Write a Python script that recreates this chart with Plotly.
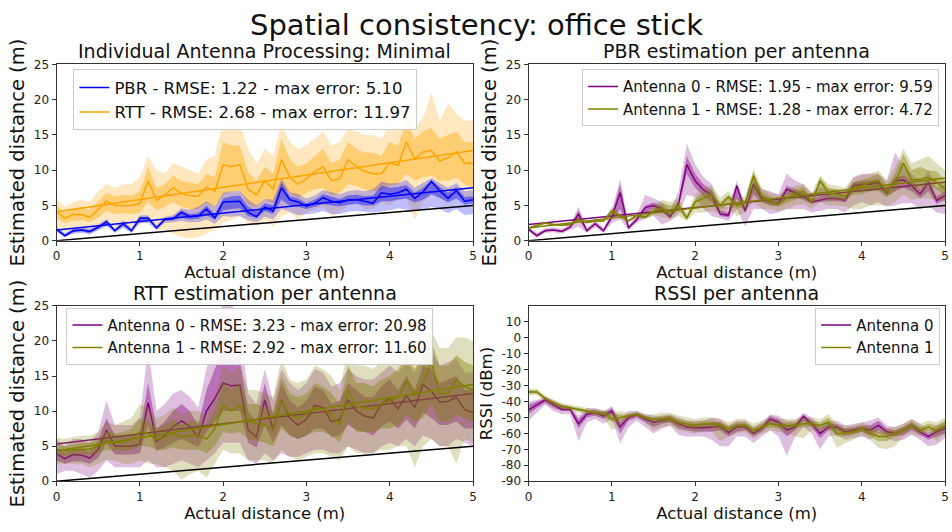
import plotly.graph_objects as go

# ---------------- data ----------------
dist = [0.0, 0.1, 0.2, 0.3, 0.4, 0.5, 0.6, 0.7, 0.8, 0.9, 1.0, 1.1, 1.2, 1.3, 1.4, 1.5, 1.6, 1.7,
        1.8, 1.9, 2.0, 2.1, 2.2, 2.3, 2.4, 2.5, 2.6, 2.7, 2.8, 2.9, 3.0, 3.1, 3.2, 3.3, 3.4, 3.5,
        3.6, 3.7, 3.8, 3.9, 4.0, 4.1, 4.2, 4.3, 4.4, 4.5, 4.6, 4.7, 4.8, 4.9, 5.0]
fit_x = [0.0, 5.0]

# Panel 1 - combined PBR
pbr_med = [1.6,0.7,1.4,1.5,1.3,1.9,2.7,1.4,2.4,1.4,3.2,3.2,1.8,3.0,3.1,4.0,3.4,3.5,4.5,3.2,5.5,5.6,5.6,4.0,3.4,4.8,4.2,7.5,5.8,5.5,4.9,5.3,6.1,5.6,5.4,5.8,5.8,5.6,5.3,6.8,6.6,6.8,7.3,6.0,6.9,8.4,7.1,6.0,7.1,5.6,5.8]
pbr_q_lo = [1.4,0.6,1.2,1.3,1.1,1.7,2.3,1.3,2.1,1.3,2.8,2.9,1.7,2.8,2.9,3.3,3.0,3.1,3.6,3.0,4.3,4.5,4.6,3.5,3.2,4.2,3.8,5.8,5.0,4.8,4.5,4.8,5.2,5.0,4.9,5.1,5.2,5.0,5.0,5.6,5.6,5.8,6.0,5.4,5.8,6.6,6.1,5.4,6.0,5.1,5.3]
pbr_q_hi = [1.8,0.9,1.6,1.7,1.5,2.1,2.9,1.6,2.6,1.6,3.4,3.4,2.0,3.2,3.4,4.3,3.8,3.9,5.0,3.8,6.0,6.3,6.4,4.8,4.2,5.3,5.0,8.3,6.3,6.0,5.3,5.8,6.6,6.2,5.9,6.4,6.5,6.3,6.4,7.8,7.5,7.6,7.9,6.8,7.5,8.6,7.6,6.8,7.6,6.2,6.3]
pbr_o_lo = [1.2,0.5,1.0,1.1,0.9,1.5,2.0,1.1,1.8,1.1,2.5,2.5,1.5,2.5,2.6,2.8,2.6,2.6,3.0,2.4,3.5,3.4,3.5,2.9,2.6,3.4,3.0,4.5,4.1,3.6,3.8,3.9,4.2,3.8,3.8,4.1,4.2,4.1,4.0,4.2,4.3,4.6,4.4,4.2,4.3,4.8,4.5,3.9,4.5,3.6,3.8]
pbr_o_hi = [2.0,1.1,1.8,1.9,1.7,2.3,3.1,1.8,2.9,1.8,3.6,3.6,2.2,3.4,3.6,4.6,4.4,4.8,5.6,4.8,6.8,7.0,7.0,5.8,5.0,5.9,5.8,8.8,6.9,6.6,6.0,6.4,7.2,6.9,6.6,7.0,7.2,7.0,7.3,8.4,8.1,8.2,8.6,7.5,8.2,8.9,8.2,7.5,8.2,7.0,7.2]
pbr_fit = [1.5, 7.5]

# Panel 1 - combined RTT
rtt_med = [4.15,3.2,3.7,3.7,3.3,4.4,5.6,5.0,5.0,5.0,5.3,8.5,5.7,6.5,7.5,6.7,6.4,6.3,7.6,7.0,10.8,10.5,10.8,7.3,6.5,8.5,7.3,11.5,9.0,8.0,8.8,9.8,10.5,8.5,8.8,11.5,10.5,9.8,9.5,9.5,11.0,10.7,14.0,11.6,12.6,12.8,11.3,11.8,12.6,11.0,11.0]
rtt_q_lo = [3.2,2.5,2.8,2.9,2.6,3.3,4.2,3.8,3.9,3.8,4.0,5.5,4.3,4.8,5.5,4.8,4.5,4.5,5.3,4.8,6.5,7.0,7.0,5.2,4.8,6.0,5.2,7.5,6.8,6.0,6.8,7.3,7.5,6.5,6.8,8.0,7.8,7.3,7.0,7.2,7.8,8.0,9.5,8.5,9.0,9.2,8.5,8.5,9.0,8.0,7.5]
rtt_q_hi = [5.0,4.0,4.6,4.8,4.4,5.6,6.8,6.3,6.5,6.4,7.0,10.5,7.5,8.0,9.2,8.5,8.3,8.0,9.5,9.0,14.0,13.5,13.5,9.8,8.5,10.5,9.5,14.5,11.5,10.5,11.0,12.0,13.0,11.0,11.5,14.0,13.0,12.5,12.5,12.0,14.0,13.5,17.0,14.5,15.5,16.0,14.5,15.0,15.5,14.0,14.0]
rtt_o_lo = [2.0,1.2,1.5,1.5,0.8,1.8,2.8,2.0,2.0,1.8,2.2,3.0,1.5,1.5,1.0,0.5,0.3,0.5,1.0,1.5,2.5,3.0,3.5,2.5,2.0,3.0,2.0,3.5,4.0,3.0,4.0,4.5,4.8,3.5,4.0,5.0,5.5,4.5,4.5,5.5,5.0,6.0,6.0,3.0,5.5,6.5,6.0,5.5,6.5,6.0,5.0]
rtt_o_hi = [6.0,4.8,5.5,5.8,5.5,7.0,8.0,7.5,8.0,8.0,9.0,12.0,10.0,9.5,11.0,10.5,10.0,9.5,11.5,12.0,17.0,16.5,16.5,13.0,11.0,13.0,12.0,16.5,14.0,13.0,13.5,14.5,15.5,13.5,14.0,16.0,15.5,15.0,15.0,14.5,16.5,16.0,18.5,16.0,17.5,21.0,17.0,19.5,18.0,17.0,17.0]
rtt_fit = [4.1, 12.8]

# Panel 2 - PBR per antenna
pa0_med = [1.6,0.7,1.4,1.5,1.3,1.9,3.8,1.4,2.4,1.4,3.4,6.8,1.8,3.0,4.7,5.0,4.5,3.4,5.2,10.8,8.5,7.2,6.5,3.8,3.6,7.8,4.2,8.0,6.0,5.5,5.3,7.3,6.8,6.3,5.5,5.8,6.0,6.0,5.7,7.8,8.0,8.0,8.3,6.8,8.5,8.6,7.8,6.6,8.2,5.7,6.4]
pa0_q_lo = [1.5,0.6,1.3,1.4,1.2,1.8,3.0,1.3,2.2,1.3,3.0,4.5,1.7,2.8,4.0,4.5,4.0,3.2,4.7,9.5,7.5,6.3,5.5,3.5,3.3,6.0,4.0,6.5,5.5,5.0,5.0,6.5,6.3,5.8,5.2,5.5,5.6,5.6,5.4,7.0,7.0,7.0,7.3,6.3,7.0,7.5,7.0,6.0,7.0,5.2,5.8]
pa0_q_hi = [1.8,0.9,1.6,1.7,1.5,2.1,4.3,1.6,2.6,1.6,3.8,8.0,2.0,3.3,5.0,5.4,5.0,3.7,5.7,12.0,9.5,8.0,7.2,4.3,4.0,8.0,4.6,8.5,6.5,6.0,5.8,7.8,7.3,6.8,5.9,6.3,6.5,6.4,6.2,8.3,8.5,8.5,8.8,7.2,9.0,9.3,8.5,7.3,8.8,6.3,7.0]
pa0_o_lo = [1.3,0.4,1.1,1.2,1.0,1.5,2.0,1.1,1.9,1.1,2.5,3.0,1.5,2.5,3.2,3.5,2.3,2.8,3.8,6.5,6.2,4.5,3.5,3.2,2.8,4.5,2.0,4.5,4.5,3.8,4.0,4.5,4.5,4.5,4.0,4.3,4.5,4.5,4.0,5.0,5.5,5.0,5.5,4.8,5.0,5.3,5.3,4.5,5.0,4.0,3.8]
pa0_o_hi = [2.0,1.1,1.8,1.9,1.7,2.3,4.8,1.8,2.9,1.8,4.3,8.8,2.2,3.7,6.5,6.0,5.5,4.2,7.0,13.8,10.8,9.0,8.0,5.0,4.8,8.5,5.2,9.0,7.3,7.0,6.6,9.5,8.5,8.0,6.8,7.5,7.3,7.2,7.0,9.0,9.5,9.5,9.5,8.5,12.5,10.5,9.5,8.3,10.0,7.5,8.0]
pa0_fit = [2.3, 8.3]

pa1_med = [1.8,2.2,2.5,2.3,2.2,2.3,3.0,2.6,2.8,2.8,4.2,3.5,2.8,3.6,3.3,4.2,4.6,4.0,5.0,3.2,5.5,6.0,6.5,5.0,6.2,5.0,5.3,9.2,6.3,5.6,5.2,6.0,6.6,7.0,5.5,8.5,6.8,6.6,6.3,7.5,7.8,8.3,8.5,7.0,8.3,11.0,8.6,8.7,9.0,8.3,7.3]
pa1_q_lo = [1.7,2.1,2.4,2.2,2.1,2.2,2.8,2.5,2.7,2.7,3.8,3.3,2.7,3.4,3.2,3.9,4.0,3.5,4.2,3.0,4.8,5.0,5.2,4.5,5.0,4.5,4.8,7.0,5.5,5.0,4.8,5.3,5.8,6.0,5.2,6.8,6.0,5.9,5.7,6.5,6.6,7.0,7.0,6.2,7.0,9.0,7.5,7.5,7.8,7.3,6.5]
pa1_q_hi = [1.9,2.3,2.6,2.4,2.3,2.4,3.2,2.7,2.9,2.9,4.5,3.7,2.9,3.8,3.5,4.6,5.4,5.0,5.5,3.6,6.0,6.8,7.2,5.5,6.5,5.5,5.8,9.8,7.0,6.3,5.6,6.6,7.2,7.6,6.0,9.0,7.5,7.3,7.0,8.3,8.6,9.0,9.5,7.8,9.5,12.3,10.0,10.5,10.0,9.8,8.5]
pa1_o_lo = [1.6,2.0,2.3,2.1,2.0,2.1,2.6,2.4,2.6,2.6,3.5,3.1,2.6,3.2,3.0,3.6,3.4,3.0,3.5,2.8,4.0,4.0,4.2,3.8,4.5,3.5,4.0,5.5,4.5,4.5,4.2,4.5,5.0,5.2,4.5,5.5,5.0,5.0,4.8,4.5,4.5,5.0,5.0,5.0,5.5,6.5,5.8,6.0,6.0,5.8,5.5]
pa1_o_hi = [2.0,2.4,2.7,2.5,2.4,2.5,3.4,2.8,3.0,3.0,4.8,3.9,3.0,4.0,3.7,5.0,5.8,5.5,6.0,4.0,6.5,7.5,7.8,6.2,7.0,6.0,6.3,10.2,7.5,6.8,6.5,7.2,7.8,8.0,6.8,9.2,8.0,7.8,7.5,9.0,9.2,9.5,10.0,8.5,10.5,13.0,11.0,11.5,12.0,11.0,10.0]
pa1_fit = [1.8, 8.9]

# Panel 3 - RTT per antenna
ra0_med = [3.9,3.2,3.8,3.7,3.3,4.5,7.3,5.0,5.0,5.0,5.3,11.2,5.7,6.5,7.8,8.6,7.8,6.3,10.0,11.8,14.0,13.6,13.7,7.3,6.3,11.6,7.3,11.6,9.0,8.0,8.8,10.8,10.5,8.5,8.8,11.6,10.0,9.3,9.0,11.0,11.8,10.3,12.2,10.5,13.8,12.8,11.3,11.4,12.0,10.2,9.8]
ra0_q_lo = [3.0,2.5,2.8,2.8,2.5,3.3,5.5,3.8,3.8,3.8,4.0,8.0,4.3,4.8,5.5,6.0,5.5,4.8,7.0,8.5,10.0,10.0,10.0,5.5,4.8,8.0,5.5,8.0,6.5,6.0,6.5,7.5,7.5,6.3,6.5,8.0,7.3,7.0,6.5,7.8,8.5,7.5,8.8,7.5,9.8,9.0,8.0,8.0,8.5,7.5,7.5]
ra0_q_hi = [4.8,4.0,4.8,4.6,4.2,5.8,9.0,6.5,6.5,6.5,7.0,14.0,7.5,8.5,10.0,11.0,10.0,8.0,13.0,16.0,19.0,17.5,17.5,10.0,8.5,14.0,9.5,14.0,11.5,10.5,11.5,13.5,13.0,11.0,11.5,14.0,13.0,12.0,12.0,13.5,14.5,13.0,15.0,13.0,16.5,16.0,14.0,14.5,15.0,13.0,13.0]
ra0_o_lo = [1.0,1.5,1.5,1.0,0.5,1.5,3.0,2.0,2.0,2.0,2.0,3.0,2.0,2.0,2.5,3.0,2.5,2.0,3.0,4.0,5.5,5.5,5.5,3.0,2.5,4.0,3.0,4.0,3.5,3.5,4.0,4.5,4.5,4.0,4.0,5.0,4.5,4.0,4.0,5.0,5.5,5.0,6.0,5.0,6.5,6.0,5.0,5.0,6.0,5.5,5.0]
ra0_o_hi = [6.0,5.0,6.0,6.0,5.5,7.0,11.5,8.0,8.0,8.0,9.0,19.0,10.0,11.0,12.5,13.0,12.0,10.5,16.0,20.0,26.0,25.5,22.0,12.5,11.0,16.0,11.5,16.0,14.0,13.0,14.0,16.0,15.5,13.5,14.0,16.0,15.0,14.5,14.5,15.5,16.5,15.5,17.0,15.5,18.0,18.5,16.5,17.0,17.5,15.5,15.5]
ra0_fit = [5.3, 12.5]

ra1_med = [4.5,4.3,4.5,4.6,4.6,5.0,5.8,5.5,5.6,6.0,7.0,6.8,6.0,6.3,6.8,6.3,6.5,6.5,6.0,7.5,10.8,10.0,10.8,8.5,8.3,8.0,7.5,11.5,9.5,9.0,9.5,10.5,10.3,9.5,8.0,13.0,10.5,10.5,10.3,11.0,11.5,12.0,14.3,12.5,14.0,17.0,12.5,12.5,14.5,13.5,13.0]
ra1_q_lo = [3.8,3.6,3.8,3.8,3.8,4.0,4.5,4.3,4.3,4.5,5.0,5.0,4.5,4.5,4.8,4.5,4.5,4.5,4.0,5.0,7.0,6.8,7.0,6.0,5.8,5.5,5.0,7.5,6.5,6.0,6.5,7.0,7.0,6.5,5.5,8.5,7.0,7.0,7.0,7.5,7.5,8.0,9.5,8.5,9.0,11.0,8.5,8.5,9.5,9.0,8.5]
ra1_q_hi = [5.3,5.0,5.3,5.5,5.5,6.0,7.2,6.8,7.0,7.5,9.0,8.5,7.5,8.0,8.8,8.0,8.5,8.5,8.0,10.0,14.0,13.0,14.0,11.0,11.0,10.5,10.0,15.0,12.5,12.0,12.5,14.0,13.5,12.5,11.0,16.5,14.0,14.0,13.5,14.5,15.0,16.0,18.0,16.0,18.0,20.0,16.5,16.5,18.0,17.0,16.5]
ra1_o_lo = [2.5,2.5,2.5,2.5,2.0,2.5,3.0,3.0,2.5,2.5,3.0,2.5,2.5,2.0,1.5,0.2,1.0,1.5,0.5,2.5,4.5,4.0,4.0,3.0,3.0,3.0,2.5,4.5,3.5,3.0,3.5,4.0,4.0,3.5,3.0,5.0,4.0,4.0,4.0,4.5,4.5,5.0,5.0,2.0,5.0,6.0,5.0,5.0,2.5,6.0,5.5]
ra1_o_hi = [6.2,6.0,6.3,6.5,6.5,7.0,8.5,8.0,8.5,9.0,11.0,10.5,9.0,9.5,10.5,9.5,10.0,10.0,9.5,12.0,16.5,15.5,16.5,13.0,13.0,12.5,12.0,17.5,14.5,14.0,14.5,16.5,16.0,15.0,13.0,19.0,16.5,16.5,16.0,17.0,17.5,18.5,20.0,18.5,20.0,21.5,19.0,19.0,20.5,20.5,20.0]
ra1_fit = [4.3, 13.8]

# Panel 4 - RSSI per antenna
s0_med = [-45.3,-42,-39,-42,-45,-45,-54,-48,-47,-49,-46,-56,-50,-48,-51,-53,-52,-51,-54,-56,-56.5,-56.5,-56,-55.5,-59.5,-56,-56,-60,-57,-51,-53,-58,-56,-49.5,-54,-60,-56,-56,-59,-58,-57,-58,-55,-59,-60,-58,-55,-59,-62,-59,-57]
s0_q_lo = [-48,-44,-41,-44,-46,-46,-57,-50,-49,-51,-48,-60,-52,-50,-53,-56,-54,-53,-57,-58,-59,-59,-59,-58,-62,-59,-58,-62,-59,-54,-56,-62,-58,-52,-56,-63,-58,-58,-61,-60,-59,-61,-58,-61,-62,-61,-58,-61,-64,-62,-60]
s0_q_hi = [-42,-40,-38,-40,-43,-44,-51,-46,-45,-47,-44,-53,-48,-47,-49,-51,-50,-49,-52,-54,-54,-54,-53,-53,-57,-54,-54,-58,-55,-49,-51,-55,-54,-48,-52,-57,-54,-54,-57,-56,-55,-55,-52,-57,-58,-56,-53,-57,-60,-57,-55]
s0_o_lo = [-52,-47,-42,-46,-48,-48,-65,-53,-51,-54,-51,-66,-56,-52,-56,-60,-57,-55,-61,-62,-62,-62,-64,-68,-68,-62,-62,-66,-62,-58,-62,-74,-62,-56,-60,-70,-62,-61,-64,-63,-62,-64,-60,-63,-65,-64,-61,-64,-68,-67,-63]
s0_o_hi = [-40,-39,-37,-39,-42,-43,-49,-44,-44,-46,-43,-51,-46,-46,-48,-49,-49,-48,-50,-52,-52,-52,-50,-51,-55,-52,-52,-56,-53,-48,-49,-52,-52,-47,-50,-55,-52,-52,-55,-54,-53,-52,-50,-55,-56,-54,-51,-54,-58,-55,-53]

s1_med = [-34,-34,-38,-41,-43,-44,-45,-46,-47,-47,-51,-50,-49,-48,-50,-51,-51,-51,-53,-54,-55,-54,-54,-55,-57,-55,-55,-58,-56,-54,-55,-55,-55,-54,-54,-55,-53,-60,-60,-59,-57,-60,-62,-62,-60,-58,-55,-58,-56,-58,-55]
s1_q_lo = [-35,-35,-39,-42,-44,-45,-46,-47,-48,-49,-53,-52,-50,-49,-51,-53,-53,-53,-55,-56,-57,-56,-56,-58,-59,-57,-57,-60,-58,-56,-57,-57,-57,-56,-56,-57,-56,-62,-62,-61,-59,-62,-65,-65,-62,-60,-57,-60,-58,-60,-57]
s1_q_hi = [-33,-33,-37,-40,-42,-43,-44,-45,-46,-46,-48,-48,-48,-47,-49,-50,-49,-49,-51,-52,-53,-52,-52,-53,-55,-53,-53,-56,-54,-52,-53,-53,-53,-52,-52,-53,-50,-56,-57,-57,-55,-57,-59,-59,-58,-56,-53,-56,-54,-55,-52]
s1_o_lo = [-36,-36,-40,-43,-45,-46,-47,-48,-49,-50,-58,-55,-51,-50,-53,-58,-56,-55,-58,-59,-60,-58,-59,-65,-62,-60,-59,-63,-60,-58,-59,-60,-62,-63,-58,-59,-58,-69,-66,-64,-61,-64,-69,-70,-68,-62,-60,-62,-60,-65,-60]
s1_o_hi = [-32,-32,-36,-39,-41,-42,-43,-44,-45,-45,-47,-46,-47,-46,-48,-48,-47,-47,-49,-50,-51,-50,-50,-51,-53,-51,-51,-54,-52,-50,-51,-51,-51,-50,-50,-51,-48,-54,-55,-55,-53,-55,-57,-57,-56,-54,-51,-54,-52,-53,-50]

# text
main_title = "Spatial consistency: office stick"
sub_titles = ["Individual Antenna Processing: Minimal", "PBR estimation per antenna",
              "RTT estimation per antenna", "RSSI per antenna"]
leg1 = ["PBR - RMSE: 1.22 - max error: 5.10", "RTT - RMSE: 2.68 - max error: 11.97"]
leg2 = ["Antenna 0 - RMSE: 1.95 - max error: 9.59", "Antenna 1 - RMSE: 1.28 - max error: 4.72"]
leg3 = ["Antenna 0 - RMSE: 3.23 - max error: 20.98", "Antenna 1 - RMSE: 2.92 - max error: 11.60"]
leg4 = ["Antenna 0", "Antenna 1"]
dist_ticks = [0, 1, 2, 3, 4, 5]
est_ticks = [0, 5, 10, 15, 20, 25]
rssi_ticks = [-90, -80, -70, -60, -50, -40, -30, -20, -10, 0, 10]
rssi_ticktext = ["-90", "-80", "-70", "-60", "-50", "-40", "-30", "-20", "-10", "0", "10"]

# ---------------- styling ----------------
FONT = "DejaVu Sans"
BLUE = (0, 0, 255)
ORANGE = (255, 165, 0)
PURPLE = (128, 0, 128)
OLIVE = (128, 128, 0)


def rgba(c, a):
    return "rgba(%d,%d,%d,%s)" % (c[0], c[1], c[2], a)


fig = go.Figure()


def add_series(n, color, name, legend, rank, med, qlo, qhi, olo, ohi, fit=None):
    xa = "x" if n == 1 else "x%d" % n
    ya = "y" if n == 1 else "y%d" % n
    for lo, hi, a in ((olo, ohi, 0.25), (qlo, qhi, 0.4)):
        fig.add_trace(go.Scatter(x=dist + dist[::-1], y=hi + lo[::-1], fill="toself",
                                 fillcolor=rgba(color, a), line=dict(width=0),
                                 mode="lines", hoverinfo="skip", showlegend=False,
                                 xaxis=xa, yaxis=ya))
    fig.add_trace(go.Scatter(x=dist, y=med, mode="lines", name=name,
                             line=dict(color=rgba(color, 1), width=1.5),
                             legend=legend, legendrank=rank, xaxis=xa, yaxis=ya))
    if fit is not None:
        fig.add_trace(go.Scatter(x=fit_x, y=fit, mode="lines", showlegend=False,
                                 line=dict(color=rgba(color, 1), width=1.5),
                                 xaxis=xa, yaxis=ya))


def add_identity(n):
    xa = "x" if n == 1 else "x%d" % n
    ya = "y" if n == 1 else "y%d" % n
    fig.add_trace(go.Scatter(x=dist, y=dist, mode="lines", showlegend=False,
                             line=dict(color="black", width=1.5), xaxis=xa, yaxis=ya))


# panel 1 (RTT drawn first so PBR sits on top)
add_series(1, ORANGE, leg1[1], "legend", 2, rtt_med, rtt_q_lo, rtt_q_hi, rtt_o_lo, rtt_o_hi, rtt_fit)
add_series(1, BLUE, leg1[0], "legend", 1, pbr_med, pbr_q_lo, pbr_q_hi, pbr_o_lo, pbr_o_hi, pbr_fit)
add_identity(1)
# panel 2
add_series(2, PURPLE, leg2[0], "legend2", 1, pa0_med, pa0_q_lo, pa0_q_hi, pa0_o_lo, pa0_o_hi, pa0_fit)
add_series(2, OLIVE, leg2[1], "legend2", 2, pa1_med, pa1_q_lo, pa1_q_hi, pa1_o_lo, pa1_o_hi, pa1_fit)
add_identity(2)
# panel 3
add_series(3, PURPLE, leg3[0], "legend3", 1, ra0_med, ra0_q_lo, ra0_q_hi, ra0_o_lo, ra0_o_hi, ra0_fit)
add_series(3, OLIVE, leg3[1], "legend3", 2, ra1_med, ra1_q_lo, ra1_q_hi, ra1_o_lo, ra1_o_hi, ra1_fit)
add_identity(3)
# panel 4
add_series(4, PURPLE, leg4[0], "legend4", 1, s0_med, s0_q_lo, s0_q_hi, s0_o_lo, s0_o_hi)
add_series(4, OLIVE, leg4[1], "legend4", 2, s1_med, s1_q_lo, s1_q_hi, s1_o_lo, s1_o_hi)

W, H = 952, 532
XL = [53 / W, 473 / W]
XR = [529 / W, 949 / W]
YT = [1 - 240 / H, 1 - 59 / H]
YB = [1 - 487 / H, 1 - 307 / H]

axis_common = dict(showline=True, linecolor="#333333", linewidth=1, mirror=True,
                   ticks="outside", ticklen=4, tickcolor="#333333", showgrid=False,
                   zeroline=False, tickfont=dict(family=FONT, size=12, color="#222"))


def xax(dom, anchor):
    return dict(axis_common, domain=dom, anchor=anchor, range=[0, 5], tickvals=dist_ticks,
                title=dict(text="Actual distance (m)", standoff=2,
                           font=dict(family=FONT, size=16.5, color="#111")))


def yax(dom, anchor, title, size, rng, ticks, ticktext=None):
    d = dict(axis_common, domain=dom, anchor=anchor, range=rng, tickvals=ticks,
             title=dict(text=title, standoff=4, font=dict(family=FONT, size=size, color="#111")))
    if ticktext is not None:
        d["ticktext"] = ticktext
    return d


def legend_box(x, y, size):
    return dict(x=x, y=y, xanchor="left", yanchor="top", bgcolor="rgba(255,255,255,0.9)",
                bordercolor="#cccccc", borderwidth=1,
                font=dict(family=FONT, size=size, color="#111"), tracegroupgap=0,
                itemwidth=30)


annotations = [dict(text=main_title, x=0.5, y=1 - 18 / H, xref="paper", yref="paper",
                    showarrow=False, xanchor="center", yanchor="middle",
                    font=dict(family=FONT, size=29, color="#111"))]
for txt, dx, dy in ((sub_titles[0], XL, YT), (sub_titles[1], XR, YT),
                    (sub_titles[2], XL, YB), (sub_titles[3], XR, YB)):
    annotations.append(dict(text=txt, x=(dx[0] + dx[1]) / 2, y=dy[1], xref="paper", yref="paper",
                            showarrow=False, xanchor="center", yanchor="bottom", yshift=0,
                            font=dict(family=FONT, size=19, color="#111")))

fig.update_layout(
    width=W, height=H, margin=dict(l=0, r=0, t=0, b=0),
    paper_bgcolor="white", plot_bgcolor="white",
    font=dict(family=FONT, color="#111"),
    xaxis=xax(XL, "y"), yaxis=yax(YT, "x", "Estimated distance (m)", 19.5, [0, 25], est_ticks),
    xaxis2=xax(XR, "y2"), yaxis2=yax(YT, "x2", "Estimated distance (m)", 19.5, [0, 25], est_ticks),
    xaxis3=xax(XL, "y3"), yaxis3=yax(YB, "x3", "Estimated distance (m)", 19.5, [0, 25], est_ticks),
    xaxis4=xax(XR, "y4"), yaxis4=yax(YB, "x4", "RSSI (dBm)", 16.5, [-90, 20], rssi_ticks, rssi_ticktext),
    legend=legend_box(70 / W, 1 - 64 / H, 16.5),
    legend2=legend_box(583 / W, 1 - 64 / H, 15),
    legend3=legend_box(63 / W, 1 - 309 / H, 15),
    legend4=legend_box(818 / W, 1 - 309 / H, 15),
    annotations=annotations,
)

fig.write_html("out.html")
